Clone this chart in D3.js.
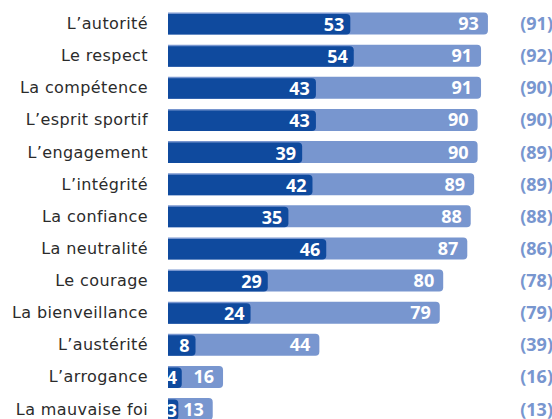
<!DOCTYPE html>
<html>
<head>
<meta charset="utf-8">
<script src="https://cdn.jsdelivr.net/npm/d3@7"></script>
<style>
  body { margin: 0; background: #fff; }
  svg { display: block; }
</style>
</head>
<body>
<div id="chart"></div>
<script>
// data
const labels = ["L’autorité", "Le respect", "La compétence", "L’esprit sportif", "L’engagement",
  "L’intégrité", "La confiance", "La neutralité", "Le courage", "La bienveillance",
  "L’austérité", "L’arrogance", "La mauvaise foi"];
const darkValues = [53, 54, 43, 43, 39, 42, 35, 46, 29, 24, 8, 4, 3];
const lightValues = [93, 91, 91, 90, 90, 89, 88, 87, 80, 79, 44, 16, 13];
const prevValues = [91, 92, 90, 90, 89, 89, 88, 86, 78, 79, 39, 16, 13];

const width = 552, height = 419;
const darkColor = "#0f4a9e", lightColor = "#7896cf";
const labelFont = "'DejaVu Sans', sans-serif";
const numFont = "'Open Sans', sans-serif";

const svg = d3.select("#chart").append("svg")
    .attr("width", width)
    .attr("height", height);

const x = d3.scaleLinear().domain([0, 100]).range([168, 512]);
const y = d3.scalePoint().domain(labels).range([23.5, 409]);

// numbers inside bars don't spill left of the bar start
svg.append("clipPath").attr("id", "barclip")
  .append("rect")
    .attr("x", x(0)).attr("y", 0)
    .attr("width", width).attr("height", height);

const rows = svg.append("g").selectAll("g")
  .data(labels)
  .join("g")
    .attr("transform", d => `translate(0, ${y(d)})`);

// rounded only on the right side
function barPath(x0, x1, top, h, r) {
  r = Math.min(r, x1 - x0);
  return `M${x0},${top}H${x1 - r}Q${x1},${top} ${x1},${top + r}V${top + h - r}Q${x1},${top + h} ${x1 - r},${top + h}H${x0}Z`;
}

rows.append("path")
    .attr("d", (d, i) => barPath(x(0), x(lightValues[i]), -11, 22, 4))
    .attr("fill", lightColor);

rows.append("path")
    .attr("d", (d, i) => barPath(x(0), x(darkValues[i]), -9.5, 20.5, 4))
    .attr("fill", darkColor);

// category labels
rows.append("text")
    .attr("x", 148)
    .attr("y", 5.5)
    .attr("text-anchor", "end")
    .style("font-family", labelFont)
    .style("font-size", "16px")
    .style("letter-spacing", "0.4px")
    .attr("fill", "#2b2b2b")
    .text(d => d);

const inner = svg.append("g").attr("clip-path", "url(#barclip)")
  .selectAll("g")
  .data(labels)
  .join("g")
    .attr("transform", d => `translate(0, ${y(d)})`);

// light values
inner.append("text")
    .attr("x", (d, i) => x(lightValues[i]) - 9)
    .attr("y", 6.5)
    .attr("text-anchor", "end")
    .style("font-family", numFont)
    .style("font-size", "18px")
    .style("font-weight", "bold")
    .attr("fill", "#fff")
    .text((d, i) => lightValues[i]);

// dark values (tiny bars keep their number just inside the start)
inner.append("text")
    .attr("x", (d, i) => Math.max(x(darkValues[i]) - 6, x(0) + 9))
    .attr("y", 7.5)
    .attr("text-anchor", "end")
    .style("font-family", numFont)
    .style("font-size", "18px")
    .style("font-weight", "bold")
    .attr("fill", "#fff")
    .text((d, i) => darkValues[i]);

// previous values in brackets
rows.append("text")
    .attr("x", 553)
    .attr("y", 6.5)
    .attr("text-anchor", "end")
    .style("font-family", numFont)
    .style("font-size", "18px")
    .style("font-weight", "bold")
    .attr("fill", lightColor)
    .text((d, i) => `(${prevValues[i]})`);
</script>
</body>
</html>
